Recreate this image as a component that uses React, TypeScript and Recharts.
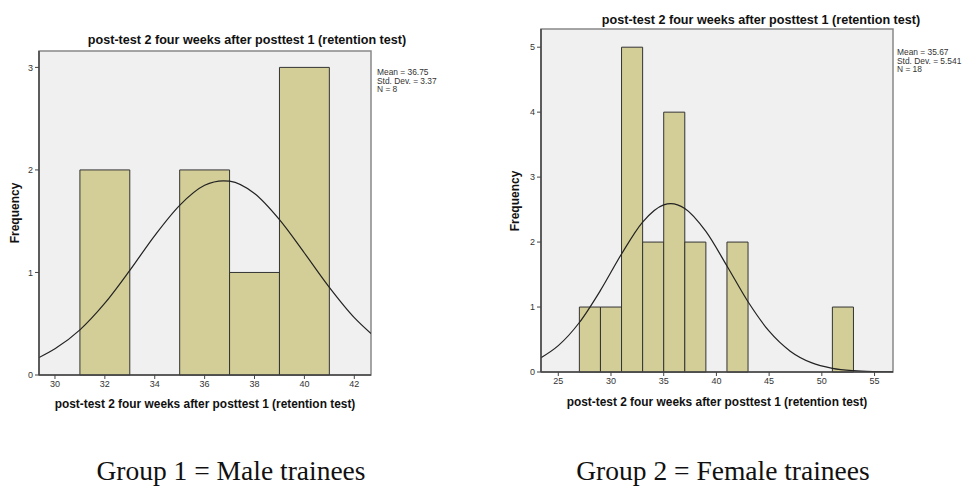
import React from 'react';
import {
  ComposedChart,
  Line,
  XAxis,
  YAxis,
  ReferenceArea,
} from 'recharts';

// Group 1 (male) histogram bins
const maleBinLo = [31, 35, 37, 39];
const maleBinHi = [33, 37, 39, 41];
const maleCounts = [2, 2, 1, 3];
// fitted normal curve
const maleCurveX = [29.36, 30, 31, 32, 33, 34, 35, 36, 36.75, 37, 38, 39, 40, 41, 42, 42.67];
const maleCurveY = [0.17, 0.255, 0.44, 0.7, 1.02, 1.36, 1.655, 1.85, 1.894, 1.89, 1.77, 1.515, 1.19, 0.855, 0.56, 0.405];
const maleTicksX = [30, 32, 34, 36, 38, 40, 42];
const maleTicksY = [0, 1, 2, 3];
const maleStats = ['Mean = 36.75', 'Std. Dev. = 3.37', 'N = 8'];

// Group 2 (female)
const femaleBinLo = [27, 29, 31, 33, 35, 37, 41, 51];
const femaleBinHi = [29, 31, 33, 35, 37, 39, 43, 53];
const femaleCounts = [1, 1, 5, 2, 4, 2, 2, 1];
const femaleCurveX = [23.36, 25, 27, 29, 31, 33, 35, 35.67, 37, 39, 41, 43, 45, 47, 49, 51, 53, 55, 56.75];
const femaleCurveY = [0.22, 0.406, 0.762, 1.256, 1.817, 2.308, 2.573, 2.592, 2.518, 2.164, 1.632, 1.081, 0.628, 0.321, 0.144, 0.057, 0.02, 0.006, 0.002];
const femaleTicksX = [25, 30, 35, 40, 45, 50, 55];
const femaleTicksY = [0, 1, 2, 3, 4, 5];
const femaleStats = ['Mean = 35.67', 'Std. Dev. = 5.541', 'N = 18'];

const TITLE = 'post-test 2 four weeks after posttest 1 (retention test)';
const FONT = '"Liberation Sans", Arial, sans-serif';
const SERIF = '"Liberation Serif", "Times New Roman", serif';

interface HistProps {
  width: number;
  height: number;
  margin: { top: number; right: number; bottom: number; left: number };
  xDomain: [number, number];
  yDomain: [number, number];
  xTicks: number[];
  yTicks: number[];
  binLo: number[];
  binHi: number[];
  counts: number[];
  curveX: number[];
  curveY: number[];
}

const Histogram: React.FC<HistProps> = (p) => {
  const curve = p.curveX.map((x, i) => ({ x, y: p.curveY[i] }));
  const tick = { fill: '#333', fontSize: 9, fontFamily: FONT };
  return (
    <ComposedChart width={p.width} height={p.height} data={curve} margin={p.margin}>
      {/* plot frame */}
      <ReferenceArea
        x1={p.xDomain[0]}
        x2={p.xDomain[1]}
        y1={p.yDomain[0]}
        y2={p.yDomain[1]}
        fill="#f0f0f0"
        fillOpacity={1}
        stroke="#888"
        strokeWidth={1.5}
      />
      {p.counts.map((c, i) => (
        <ReferenceArea
          key={i}
          x1={p.binLo[i]}
          x2={p.binHi[i]}
          y1={0}
          y2={c}
          fill="#d3ce97"
          fillOpacity={1}
          stroke="#333"
          strokeWidth={1}
        />
      ))}
      <XAxis
        dataKey="x"
        type="number"
        domain={p.xDomain}
        ticks={p.xTicks}
        allowDataOverflow
        height={30}
        tick={tick}
        tickSize={4}
        tickLine={{ stroke: '#444' }}
        axisLine={{ stroke: '#444', strokeWidth: 1.5 }}
        interval={0}
      />
      <YAxis
        type="number"
        domain={p.yDomain}
        ticks={p.yTicks}
        allowDataOverflow
        width={30}
        tick={tick}
        tickSize={4}
        tickLine={{ stroke: '#444' }}
        axisLine={{ stroke: '#444', strokeWidth: 1.5 }}
        interval={0}
      />
      <Line
        type="monotone"
        dataKey="y"
        stroke="#222"
        strokeWidth={1.2}
        dot={false}
        activeDot={false}
        isAnimationActive={false}
      />
    </ComposedChart>
  );
};

const txt = { fontFamily: FONT, fill: '#111' } as const;

const Stats: React.FC<{ x: number; y: number; lines: string[] }> = ({ x, y, lines }) => (
  <>
    {lines.map((l, i) => (
      <text key={i} x={x} y={y + i * 8.6} fontSize={8.4} style={{ ...txt, fill: '#333' }}>
        {l}
      </text>
    ))}
  </>
);

export default function App() {
  return (
    <div style={{ position: 'absolute', left: 0, top: 0, width: 969, height: 488, background: '#fff', overflow: 'hidden' }}>
      <div style={{ position: 'absolute', left: 0, top: 0 }}>
        <Histogram
          width={480}
          height={430}
          margin={{ top: 51, right: 109, bottom: 25, left: 9 }}
          xDomain={[29.36, 42.67]}
          yDomain={[0, 3.16]}
          xTicks={maleTicksX}
          yTicks={maleTicksY}
          binLo={maleBinLo}
          binHi={maleBinHi}
          counts={maleCounts}
          curveX={maleCurveX}
          curveY={maleCurveY}
        />
      </div>
      <div style={{ position: 'absolute', left: 490, top: 0 }}>
        <Histogram
          width={479}
          height={430}
          margin={{ top: 29, right: 76, bottom: 28, left: 21 }}
          xDomain={[23.36, 56.75]}
          yDomain={[0, 5.28]}
          xTicks={femaleTicksX}
          yTicks={femaleTicksY}
          binLo={femaleBinLo}
          binHi={femaleBinHi}
          counts={femaleCounts}
          curveX={femaleCurveX}
          curveY={femaleCurveY}
        />
      </div>
      <svg width={969} height={488} style={{ position: 'absolute', left: 0, top: 0, pointerEvents: 'none' }}>
        {/* titles */}
        <text x={247} y={44} textAnchor="middle" fontSize={12.6} fontWeight="bold" style={txt}>{TITLE}</text>
        <text x={761} y={24} textAnchor="middle" fontSize={12.6} fontWeight="bold" style={txt}>{TITLE}</text>
        {/* x axis labels */}
        <text x={205} y={408} textAnchor="middle" fontSize={11.9} fontWeight="bold" style={txt}>{TITLE}</text>
        <text x={717} y={406} textAnchor="middle" fontSize={11.9} fontWeight="bold" style={txt}>{TITLE}</text>
        {/* y axis labels */}
        <text x={0} y={0} transform="translate(19,213) rotate(-90)" textAnchor="middle" fontSize={12} fontWeight="bold" style={txt}>Frequency</text>
        <text x={0} y={0} transform="translate(519,201) rotate(-90)" textAnchor="middle" fontSize={12} fontWeight="bold" style={txt}>Frequency</text>
        {/* summary stats */}
        <Stats x={377} y={75} lines={maleStats} />
        <Stats x={897} y={55} lines={femaleStats} />
        {/* captions */}
        <text x={231} y={480} textAnchor="middle" fontSize={27.5} style={{ fontFamily: SERIF, fill: '#111' }}>Group 1 = Male trainees</text>
        <text x={723} y={480} textAnchor="middle" fontSize={27.5} style={{ fontFamily: SERIF, fill: '#111' }}>Group 2 = Female trainees</text>
      </svg>
    </div>
  );
}
